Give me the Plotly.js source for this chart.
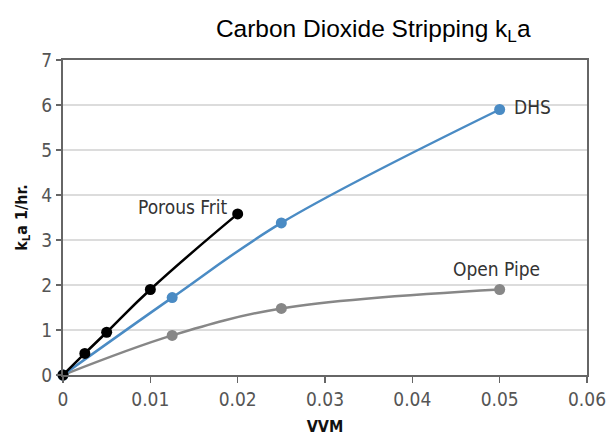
<!DOCTYPE html>
<html>
<head>
<meta charset="utf-8">
<script src="https://cdn.plot.ly/plotly-3.0.1.min.js"></script>
<style>html,body{margin:0;padding:0;background:#fff;}#chart{width:611px;height:439px;}</style>
</head>
<body>
<div id="chart"></div>
<script>
const fritX = [0, 0.0025, 0.005, 0.01, 0.02];
const fritY = [0, 0.48, 0.95, 1.9, 3.58];
const dhsX = [0, 0.0125, 0.025, 0.05];
const dhsY = [0, 1.72, 3.38, 5.9];
const pipeX = [0, 0.0125, 0.025, 0.05];
const pipeY = [0, 0.88, 1.48, 1.9];
const seriesNames = ["Porous Frit", "DHS", "Open Pipe"];

const condensed = "DejaVu Sans Condensed, Roboto, sans-serif";

function trace(x, y, color, name, sm) {
  return {
    x: x, y: y, name: name, type: "scatter", mode: "lines+markers",
    line: {color: color, width: 2.5, shape: "spline", smoothing: sm},
    marker: {color: color, size: 11},
    cliponaxis: false, hoverinfo: "skip"
  };
}

const data = [
  trace(pipeX, pipeY, "#878787", seriesNames[2], 1),
  trace(dhsX, dhsY, "#4a8bc4", seriesNames[1], 1),
  trace(fritX, fritY, "#000000", seriesNames[0], 1.3)
];

const layout = {
  width: 611, height: 439,
  margin: {l: 63, r: 24, t: 60, b: 64},
  paper_bgcolor: "#fff", plot_bgcolor: "#fff",
  showlegend: false,
  title: {text: "Carbon Dioxide Stripping k<sub>L</sub>a", font: {family: "Liberation Sans, Arial, sans-serif", size: 24.5, color: "#000"}, x: 0.592, xref: "paper", xanchor: "center", y: 0.955, yanchor: "top"},
  xaxis: {
    range: [0, 0.06], dtick: 0.01,
    showgrid: false, zeroline: false,
    showline: true, linecolor: "#666", linewidth: 2, mirror: true,
    ticks: "outside", ticklen: 6, tickcolor: "#666", tickwidth: 1.5,
    tickfont: {family: condensed, size: 19, color: "#555"},
    title: {text: "<b>VVM</b>", font: {family: condensed, size: 16, color: "#111"}, standoff: 12}
  },
  yaxis: {
    range: [0, 7], dtick: 1,
    showgrid: true, gridcolor: "#dcdcdc", gridwidth: 1.5, zeroline: false,
    showline: true, linecolor: "#666", linewidth: 2, mirror: true,
    ticks: "outside", ticklen: 5, tickcolor: "#666", tickwidth: 1.5,
    tickfont: {family: condensed, size: 19, color: "#555"},
    title: {text: "<b>k<sub>L</sub>a 1/hr.</b>", font: {family: condensed, size: 16, color: "#111"}, standoff: 10}
  },
  annotations: [
    {x: 0.02, y: 3.58, xref: "x", yref: "y", text: "Porous Frit", showarrow: false, xanchor: "right", yanchor: "bottom", xshift: -8, yshift: -6, font: {family: condensed, size: 19, color: "#333"}},
    {x: 0.05, y: 5.9, xref: "x", yref: "y", text: "DHS", showarrow: false, xanchor: "left", yanchor: "middle", xshift: 12, yshift: 3, font: {family: condensed, size: 19, color: "#333"}},
    {x: 0.05, y: 1.9, xref: "x", yref: "y", text: "Open Pipe", showarrow: false, xanchor: "center", yanchor: "bottom", xshift: -3, yshift: 8, font: {family: condensed, size: 19, color: "#333"}}
  ]
};

Plotly.newPlot("chart", data, layout, {displayModeBar: false, staticPlot: true});
</script>
</body>
</html>
